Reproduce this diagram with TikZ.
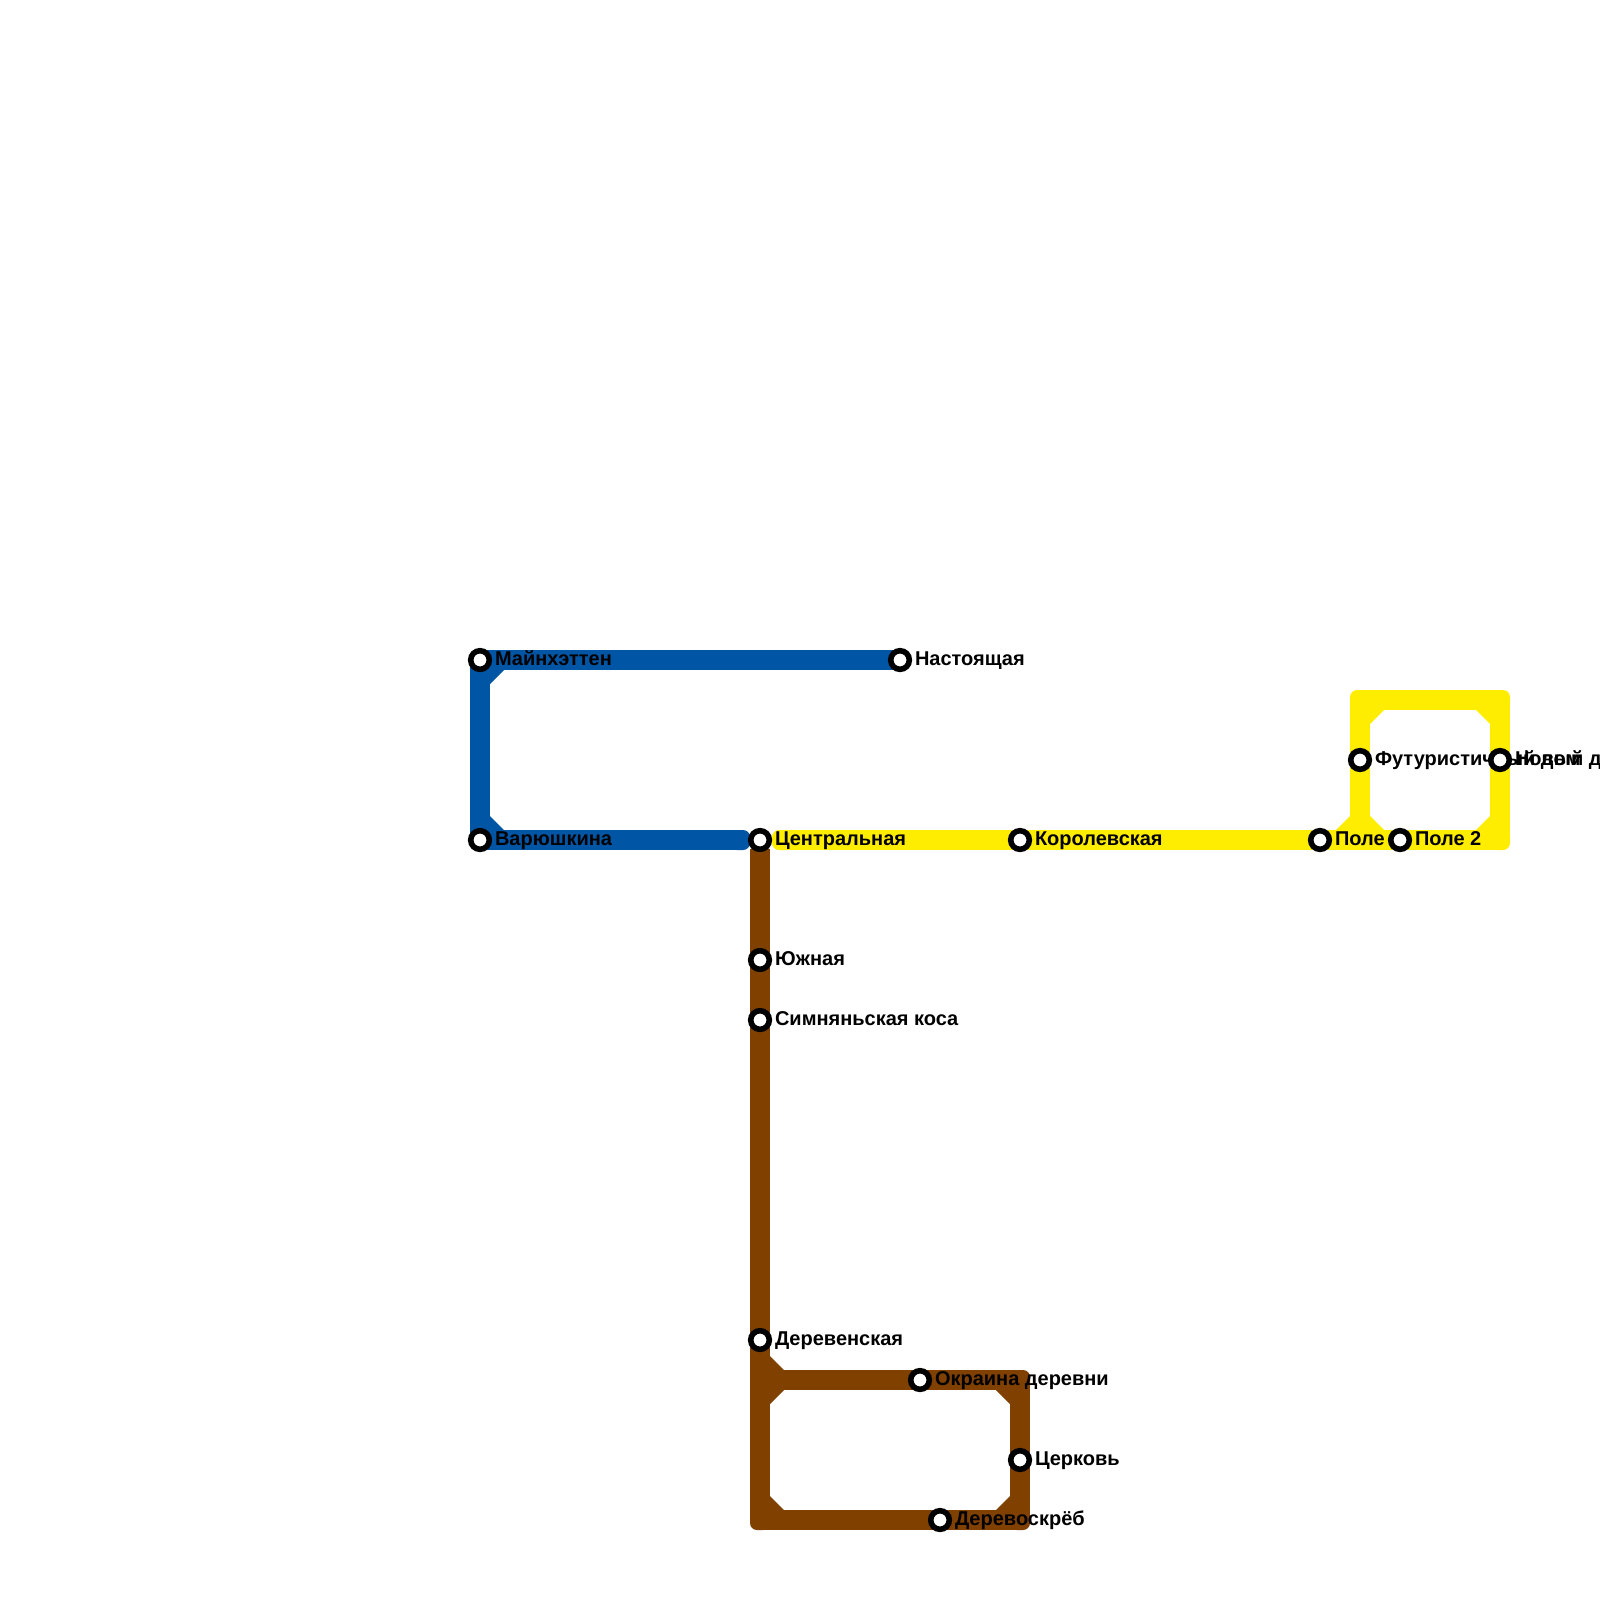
\documentclass[tikz,border=0pt]{standalone}
\usepackage{fontspec}
\setmainfont{Liberation Sans}
\usetikzlibrary{positioning,backgrounds}
\definecolor{lineblue}{RGB}{0,85,165}
\definecolor{lineyellow}{RGB}{255,237,0}
\definecolor{linebrown}{RGB}{128,64,0}
\tikzset{
    station/.style={circle,draw=black,fill=white,line width=5.6pt,minimum size=18.6pt,inner sep=0pt,outer sep=0pt},
    stationname/.style={inner sep=0pt,outer sep=0pt,text height=14pt,text depth=4pt,font=\bfseries\fontsize{20}{22}\selectfont},
    elbow/.style={rectangle,minimum size=20pt,inner sep=0pt,outer sep=0pt,rounded corners=7pt},
    track/.style={line width=20pt}
}
\begin{document}
\begin{tikzpicture}[x=1pt,y=-1pt]
        \useasboundingbox (0,0) rectangle (1600,1600);
        \foreach \s/\x/\y in {manh/480/660,nast/900/660,varu/480/840,cent/760/840,koro/1020/840,pole/1320/840,poleb/1400/840,futu/1360/760,novy/1500/760,yuzh/760/960,simn/760/1020,dere/760/1340,okra/920/1380,cerk/1020/1460,skre/940/1520}
        {%
            \node[station] (\s) at (\x,\y) {};
        }%
        %
        \coordinate (yelsplit) at (1360,840);
        \coordinate (brotop) at (760,849);
        \coordinate (brojoin) at (760,1380);
        %
        \begin{pgfonlayer}{background}
        \node[elbow,fill=lineblue] (bluestub) at (740,840) {};
        \node[elbow,fill=lineyellow] (yelstub) at (782,840) {};
        \node[elbow,fill=lineyellow] (yelne) at (1500,700) {};
        \node[elbow,fill=lineyellow] (yelnw) at (1360,700) {};
        \node[elbow,fill=lineyellow] (yelse) at (1500,840) {};
        \node[elbow,fill=linebrown] (brosw) at (760,1520) {};
        \node[elbow,fill=linebrown] (brose) at (1020,1520) {};
        \node[elbow,fill=linebrown] (brone) at (1020,1380) {};
        \foreach \c/\a/\b in {lineblue/manh/nast,lineblue/manh/varu,lineblue/varu/bluestub,
            lineyellow/yelstub/koro,lineyellow/koro/pole,lineyellow/pole/poleb,lineyellow/poleb/yelse,lineyellow/yelse/novy,lineyellow/novy/yelne,lineyellow/yelne/yelnw,lineyellow/yelnw/futu,lineyellow/futu/yelsplit,
            linebrown/brotop/yuzh,linebrown/yuzh/simn,linebrown/simn/dere,linebrown/dere/brojoin,linebrown/brojoin/brosw,linebrown/brosw/skre,linebrown/skre/brose,linebrown/brose/cerk,linebrown/cerk/brone,linebrown/brone/okra,linebrown/okra/brojoin}
        {%
            \draw[track,\c] (\a.center) -- (\b.center);
        }%
        % inner corners
        \foreach \c/\x/\y/\dx/\dy in {lineblue/490/670/14/14,lineblue/490/830/14/-14,
            lineyellow/1370/710/14/14,lineyellow/1490/710/-14/14,lineyellow/1370/830/14/-14,lineyellow/1490/830/-14/-14,lineyellow/1350/830/-14/-14,
            linebrown/770/1370/14/-14,linebrown/770/1390/14/14,linebrown/1010/1390/-14/14,linebrown/1010/1510/-14/-14,linebrown/770/1510/14/-14}
        {%
            \fill[\c] (\x,\y) -- ++(\dx,0) -- ++(-\dx,\dy) -- cycle;
        }%
        \foreach \s/\t in {manh/Майнхэттен,nast/Настоящая,varu/Варюшкина,cent/Центральная,koro/Королевская,pole/Поле,poleb/Поле 2,futu/Футуристичный дом,novy/Новый дом,yuzh/Южная,simn/Симняньская коса,dere/Деревенская,okra/Окраина деревни,cerk/Церковь,skre/Деревоскрёб}
        {%
            \node[stationname,right=5.7pt of \s] (\s-name) {\t};
        }%
        \end{pgfonlayer}
        %
    \end{tikzpicture}
\end{document}
